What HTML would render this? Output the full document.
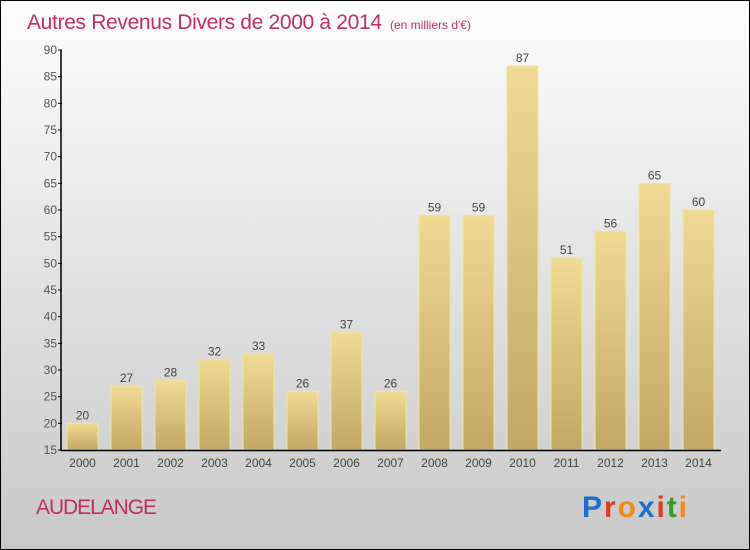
<!DOCTYPE html>
<html><head><meta charset="utf-8"><style>
body{margin:0;width:750px;height:550px;overflow:hidden;}
svg{display:block;font-family:"Liberation Sans",sans-serif;}
</style></head><body>
<svg width="750" height="550">
<defs>
<linearGradient id="bg" x1="0" y1="0" x2="0" y2="1"><stop offset="0" stop-color="#fdfdfd"/><stop offset="1" stop-color="#c8c8c8"/></linearGradient>
<linearGradient id="bar" x1="0" y1="0" x2="0" y2="1"><stop offset="0" stop-color="#f0da94"/><stop offset="1" stop-color="#c2a862"/></linearGradient>
</defs>
<rect x="0.5" y="0.5" width="749" height="549" fill="url(#bg)" stroke="#000"/>
<text x="27" y="29" font-size="21" fill="#c0305e" textLength="355">Autres Revenus Divers de 2000 à 2014</text>
<text x="390" y="29" font-size="12" fill="#c0305e">(en milliers d'€)</text>
<g id="plot"></g>
<text x="36" y="514" font-size="21" fill="#c0305e" textLength="121">AUDELANGE</text>
<text x="582" y="517" font-size="30" font-weight="bold" textLength="105"><tspan fill="#1a6fc9">P</tspan><tspan fill="#e03a1e">r</tspan><tspan fill="#f08a18">o</tspan><tspan fill="#1a6fc9">x</tspan><tspan fill="#e03a1e">i</tspan><tspan fill="#3a9a2a">t</tspan><tspan fill="#f08a18">i</tspan></text>
</svg>
<script>
const categories=["2000","2001","2002","2003","2004","2005","2006","2007","2008","2009","2010","2011","2012","2013","2014"];
const values=[20,27,28,32,33,26,37,26,59,59,87,51,56,65,60];
const yTicks=[15,20,25,30,35,40,45,50,55,60,65,70,75,80,85,90];
const NS="http://www.w3.org/2000/svg";
const g=document.getElementById('plot');
const y=v=>450-(v-15)*400/75;
const x=i=>67+i*44;
function mk(t,a){const e=document.createElementNS(NS,t);for(const k in a)e.setAttribute(k,a[k]);g.appendChild(e);return e;}
values.forEach((v,i)=>{
 const r=mk('rect',{x:x(i),y:y(v),width:31,height:450-y(v),fill:'url(#bar)',stroke:'#f4e29e','stroke-width':1});
 
 
 const t=mk('text',{x:x(i)+15.5,y:y(v)-4,'font-size':12,fill:'#444','text-anchor':'middle'});t.textContent=v;
 
 
 const c=mk('text',{x:x(i)+15.5,y:467,'font-size':12,fill:'#444','text-anchor':'middle'});c.textContent=categories[i];
 
 
});
yTicks.forEach(v=>{
 mk('line',{x1:58,x2:62,y1:y(v),y2:y(v),stroke:'#000'});
 const t=mk('text',{x:57,y:y(v)+4,'font-size':12,fill:'#555','text-anchor':'end'});t.textContent=v;
 
 
});
const ya=mk('line',{x1:61,x2:61,y1:50,y2:451,stroke:'#000','stroke-width':1.5});


const xa=mk('line',{x1:61,x2:721,y1:450.5,y2:450.5,stroke:'#000','stroke-width':1.5});


</script>
</body></html>
